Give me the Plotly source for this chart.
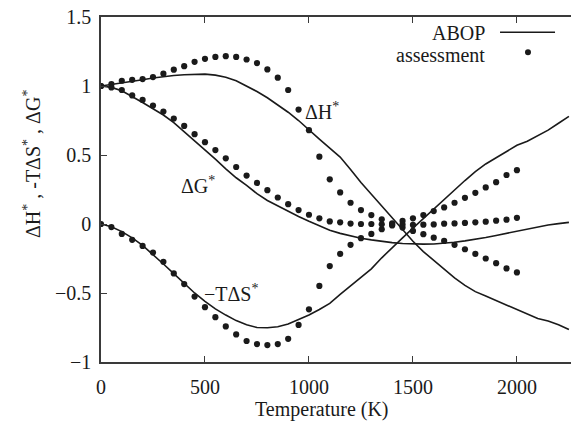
import plotly.graph_objects as go

# Temperature grid (K)
T_line = [0, 50, 100, 150, 200, 250, 300, 350, 400, 450, 500, 550, 600, 650, 700,
          750, 800, 850, 900, 950, 1000, 1050, 1100, 1150, 1200, 1250, 1300, 1350,
          1400, 1450, 1500, 1550, 1600, 1650, 1700, 1750, 1800, 1850, 1900, 1950,
          2000, 2050, 2100, 2150, 2200, 2250]
T_dots = [0, 50, 100, 150, 200, 250, 300, 350, 400, 450, 500, 550, 600, 650, 700,
          750, 800, 850, 900, 950, 1000, 1050, 1100, 1150, 1200, 1250, 1300, 1350,
          1400, 1450, 1500, 1550, 1600, 1650, 1700, 1750, 1800, 1850, 1900, 1950, 2000]

# ABOP curves
abop_dH = [1.0, 1.01, 1.02, 1.03, 1.045, 1.058, 1.068, 1.076, 1.082, 1.086, 1.086,
           1.079, 1.064, 1.038, 1.0, 0.96, 0.915, 0.865, 0.81, 0.75, 0.68, 0.615,
           0.55, 0.485, 0.395, 0.30, 0.215, 0.13, 0.045, -0.04, -0.125, -0.2,
           -0.265, -0.33, -0.39, -0.445, -0.49, -0.522, -0.555, -0.59, -0.622,
           -0.655, -0.685, -0.703, -0.73, -0.765]
abop_mTdS = [0.0, -0.02, -0.055, -0.1, -0.155, -0.22, -0.29, -0.36, -0.43, -0.5,
             -0.56, -0.615, -0.66, -0.7, -0.73, -0.75, -0.752, -0.745, -0.725,
             -0.695, -0.66, -0.62, -0.575, -0.51, -0.45, -0.39, -0.325, -0.245,
             -0.17, -0.1, -0.03, 0.04, 0.11, 0.18, 0.25, 0.315, 0.38, 0.435, 0.48,
             0.525, 0.57, 0.6, 0.64, 0.68, 0.73, 0.78]
abop_dG = [1.0, 0.99, 0.965, 0.925, 0.88, 0.835, 0.79, 0.735, 0.67, 0.605, 0.54,
           0.47, 0.40, 0.335, 0.28, 0.22, 0.17, 0.13, 0.09, 0.055, 0.02, -0.015,
           -0.045, -0.068, -0.088, -0.103, -0.115, -0.126, -0.135, -0.141, -0.145,
           -0.146, -0.145, -0.14, -0.132, -0.122, -0.112, -0.098, -0.083, -0.067,
           -0.052, -0.036, -0.021, -0.007, 0.003, 0.012]

# Assessment values
as_dH = [1.0, 1.014, 1.038, 1.045, 1.05, 1.065, 1.089, 1.118, 1.144, 1.175, 1.197,
         1.211, 1.216, 1.211, 1.192, 1.166, 1.12, 1.06, 0.971, 0.829, 0.68, 0.488,
         0.324, 0.229, 0.154, 0.101, 0.065, 0.034, 0.005, -0.026, -0.05, -0.074,
         -0.099, -0.123, -0.151, -0.183, -0.216, -0.25, -0.284, -0.322, -0.351]
as_mTdS = [0.0, -0.022, -0.072, -0.115, -0.159, -0.207, -0.274, -0.358, -0.435,
           -0.526, -0.603, -0.675, -0.742, -0.80, -0.848, -0.87, -0.877, -0.87,
           -0.832, -0.731, -0.618, -0.449, -0.305, -0.216, -0.151, -0.103, -0.072,
           -0.038, -0.01, 0.022, 0.041, 0.065, 0.094, 0.12, 0.154, 0.19, 0.226,
           0.265, 0.303, 0.355, 0.39]
as_dG = [1.0, 0.99, 0.971, 0.932, 0.899, 0.858, 0.815, 0.764, 0.711, 0.651, 0.593,
         0.536, 0.476, 0.413, 0.351, 0.298, 0.245, 0.192, 0.144, 0.101, 0.067,
         0.041, 0.019, 0.012, 0.003, 0.0, 0.0, -0.002, -0.004, -0.004, -0.007,
         -0.005, -0.003, 0.002, 0.004, 0.008, 0.012, 0.017, 0.024, 0.031, 0.045]

x_ticks = [0, 500, 1000, 1500, 2000]
y_ticks = [-1, -0.5, 0, 0.5, 1, 1.5]
y_ticktext = ["\u22121", "\u22120.5", "0", "0.5", "1", "1.5"]

FONT = "Liberation Serif, Times New Roman, serif"
INK = "#1a1a1a"
AXIS = "#3a3a3a"

fig = go.Figure()

for ys in (abop_dH, abop_mTdS, abop_dG):
    fig.add_trace(go.Scatter(x=T_line, y=ys, mode="lines",
                             line=dict(color=INK, width=1.6),
                             showlegend=False, hoverinfo="skip"))

for ys in (as_dH, as_mTdS, as_dG):
    fig.add_trace(go.Scatter(x=T_dots, y=ys, mode="markers",
                             marker=dict(color=INK, size=6.2, line=dict(width=0)),
                             showlegend=False, hoverinfo="skip"))

# curve labels
curve_labels = [
    ("\u0394H<sup>*</sup>", 1065, 0.82),
    ("\u0394G<sup>*</sup>", 468, 0.285),
    ("\u2212T\u0394S<sup>*</sup>", 625, -0.50),
]
for txt, xv, yv in curve_labels:
    fig.add_annotation(x=xv, y=yv, xref="x", yref="y", text=txt, showarrow=False,
                       font=dict(family=FONT, size=20, color=INK),
                       xanchor="center", yanchor="middle")

# legend (text on the left, key on the right)
fig.add_annotation(x=0.822, y=0.954, xref="paper", yref="paper", text="ABOP",
                   showarrow=False, xanchor="right", yanchor="middle",
                   font=dict(family=FONT, size=20, color=INK))
fig.add_annotation(x=0.822, y=0.89, xref="paper", yref="paper", text="assessment",
                   showarrow=False, xanchor="right", yanchor="middle",
                   font=dict(family=FONT, size=20, color=INK))
fig.add_shape(type="line", xref="paper", yref="paper", x0=0.849, x1=0.966,
              y0=0.956, y1=0.956, line=dict(color=INK, width=1.6))
fig.add_shape(type="circle", xref="paper", yref="paper",
              x0=0.9085 - 0.0064, x1=0.9085 + 0.0064,
              y0=0.898 - 0.0087, y1=0.898 + 0.0087,
              fillcolor=INK, line=dict(width=0))

# axis titles
fig.add_annotation(x=0.47, y=-0.137, xref="paper", yref="paper",
                   text="Temperature (K)", showarrow=False,
                   xanchor="center", yanchor="middle",
                   font=dict(family=FONT, size=20, color=INK))
fig.add_annotation(x=-0.148, y=0.575, xref="paper", yref="paper",
                   text="\u0394H<sup>*</sup> , -T\u0394S<sup>*</sup> , \u0394G<sup>*</sup>",
                   showarrow=False, textangle=-90,
                   xanchor="center", yanchor="middle",
                   font=dict(family=FONT, size=20, color=INK))

fig.update_layout(
    width=571, height=423,
    margin=dict(l=101, r=0, t=17, b=61),
    paper_bgcolor="white", plot_bgcolor="white",
    font=dict(family=FONT, size=20, color=INK),
    showlegend=False,
)
fig.update_xaxes(range=[0, 2260], tickvals=x_ticks, ticks="inside", ticklen=6,
                 tickcolor=AXIS, tickwidth=1.2, showline=True, linecolor=AXIS,
                 linewidth=1.6, mirror="ticks", showgrid=False, zeroline=False,
                 tickfont=dict(family=FONT, size=20, color=INK),
                 ticklabelstandoff=6)
fig.update_yaxes(range=[-1, 1.5], tickvals=y_ticks, ticktext=y_ticktext,
                 ticks="inside", ticklen=6, tickcolor=AXIS, tickwidth=1.2,
                 showline=True, linecolor=AXIS, linewidth=1.6, mirror=False,
                 showgrid=False, zeroline=False,
                 tickfont=dict(family=FONT, size=20, color=INK),
                 ticklabelstandoff=4)

fig.write_html("out.html")
